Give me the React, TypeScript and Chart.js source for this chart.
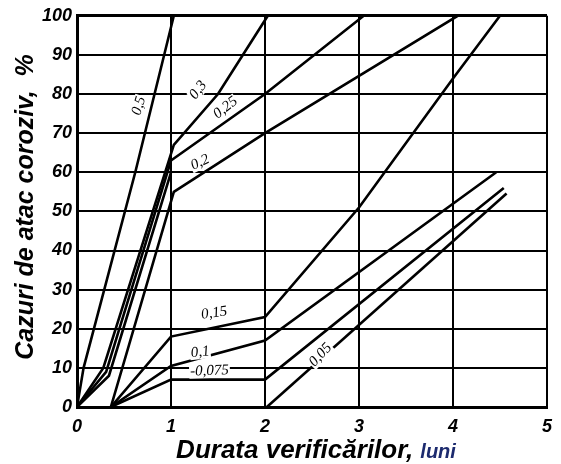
import React, { useEffect, useRef } from "react";
import { Chart, registerables } from "chart.js";

Chart.register(...registerables);

// axis ticks
const xTickValues = [0, 1, 2, 3, 4, 5];
const yTickValues = [0, 10, 20, 30, 40, 50, 60, 70, 80, 90, 100];

// curves (x = luni, y = %)
const c05X = [0, 0.07, 0.62, 1.03];
const c05Y = [0, 10, 60, 100];

const c03X = [0, 0.28, 1.03, 1.5, 2.03];
const c03Y = [0, 10, 67, 80, 100];

const c025X = [0, 0.31, 1.0, 2.0, 3.05];
const c025Y = [0, 9, 63, 80, 100];

const cAuxX = [0, 0.34, 1.0];
const cAuxY = [0, 8, 60];

const c02X = [0.36, 1.03, 2.0, 4.05];
const c02Y = [0, 55, 70, 100];

const c015X = [0.36, 1.0, 2.0, 3.0, 4.0, 4.5];
const c015Y = [0, 18, 23, 51, 84, 100];

const c01X = [0.36, 1.0, 2.0, 4.46];
const c01Y = [0, 10.5, 17, 60];

const c0075X = [0.36, 1.0, 2.0, 4.54];
const c0075Y = [0, 7, 7, 56];

const c005X = [2.02, 4.57];
const c005Y = [0, 54.6];

const curveXs = [c05X, c03X, c025X, cAuxX, c02X, c015X, c01X, c0075X, c005X];
const curveYs = [c05Y, c03Y, c025Y, cAuxY, c02Y, c015Y, c01Y, c0075Y, c005Y];

// curve labels
const labelTexts = ["0,5", "0,3", "0,25", "0,2", "0,15", "0,1", "-0,075", "0,05"];
const labelX = [0.66, 1.29, 1.58, 1.31, 1.46, 1.31, 1.41, 2.59];
const labelY = [77, 81, 76.5, 62.5, 24, 14, 9.2, 13.3];
const labelAngle = [-73, -52, -38, -25, -8, -6, -2, -47];

const yTitle = "Cazuri de atac coroziv,  %";
const xTitleMain = "Durata verificărilor,";
const xTitleUnit = "luni";

const decorPlugin = {
  id: "decor",
  afterDatasetsDraw(chart: any) {
    const { ctx } = chart;
    const xs = chart.scales.x;
    const ys = chart.scales.y;
    ctx.save();
    ctx.font = "italic 15px 'Liberation Serif'";
    ctx.textAlign = "center";
    ctx.textBaseline = "middle";
    labelTexts.forEach((t, i) => {
      const px = xs.getPixelForValue(labelX[i]);
      const py = ys.getPixelForValue(labelY[i]);
      ctx.save();
      ctx.translate(px, py);
      ctx.rotate((labelAngle[i] * Math.PI) / 180);
      const w = ctx.measureText(t).width;
      ctx.fillStyle = "#fff";
      ctx.fillRect(-w / 2 - 1, -7, w + 2, 14);
      ctx.fillStyle = "#000";
      ctx.fillText(t, 0, 0);
      ctx.restore();
    });
    ctx.restore();
  },
  afterDraw(chart: any) {
    const { ctx } = chart;
    ctx.save();
    // y title
    ctx.translate(26, 207);
    ctx.rotate(-Math.PI / 2);
    ctx.font = "italic bold 25px 'Liberation Sans'";
    ctx.fillStyle = "#000";
    ctx.textAlign = "center";
    ctx.textBaseline = "middle";
    ctx.fillText(yTitle, 0, 0);
    ctx.restore();

    ctx.save();
    ctx.textBaseline = "alphabetic";
    ctx.textAlign = "left";
    ctx.font = "italic bold 26px 'Liberation Sans'";
    const w1 = ctx.measureText(xTitleMain + " ").width;
    ctx.font = "italic bold 20px 'Liberation Sans'";
    const w2 = ctx.measureText(xTitleUnit).width;
    const start = 316 - (w1 + w2) / 2;
    ctx.font = "italic bold 26px 'Liberation Sans'";
    ctx.fillStyle = "#000";
    ctx.fillText(xTitleMain, start, 458);
    ctx.font = "italic bold 20px 'Liberation Sans'";
    ctx.fillStyle = "#1c2a6e";
    ctx.fillText(xTitleUnit, start + w1, 458);
    ctx.restore();
  },
};

export default function App() {
  const ref = useRef<HTMLCanvasElement | null>(null);
  useEffect(() => {
    if (!ref.current) return;
    const datasets = curveXs.map((xsArr, i) => ({
      label: "c" + i,
      data: xsArr.map((x, j) => ({ x, y: curveYs[i][j] })),
      borderColor: "#000",
      borderWidth: 2.6,
      pointRadius: 0,
      tension: 0,
      fill: false,
    }));
    const tickFont = { family: "'Liberation Sans'", size: 18, weight: "bold", style: "italic" };
    const chart = new Chart(ref.current, {
      type: "line",
      data: { datasets },
      options: {
        animation: false,
        responsive: false,
        layout: { padding: { top: 15, right: 6, left: 0, bottom: 0 } },
        plugins: { legend: { display: false }, tooltip: { enabled: false } },
        scales: {
          x: {
            type: "linear",
            min: 0,
            max: 5,
            afterFit: (s: any) => {
              s.height = 57;
            },
            afterBuildTicks: (s: any) => {
              s.ticks = xTickValues.map((v) => ({ value: v }));
            },
            ticks: {
              color: "#000",
              padding: 9,
              font: tickFont,
              maxRotation: 0,
            },
            grid: {
              color: "#000",
              lineWidth: 2,
              drawTicks: false,
            },
            border: { display: true, color: "#000", width: 3 },
          },
          y: {
            type: "linear",
            min: 0,
            max: 100,
            afterFit: (s: any) => {
              s.width = 77;
            },
            afterBuildTicks: (s: any) => {
              s.ticks = yTickValues.map((v) => ({ value: v }));
            },
            ticks: {
              color: "#000",
              padding: 5,
              font: tickFont,
            },
            grid: {
              color: "#000",
              lineWidth: (c: any) => (c.tick && c.tick.value === 100 ? 3 : 2),
              drawTicks: false,
            },
            border: { display: true, color: "#000", width: 3 },
          },
        },
      },
      plugins: [decorPlugin],
    });
    return () => chart.destroy();
  }, []);
  return (
    <div style={{ position: "fixed", left: 0, top: 0, width: 561, height: 464, background: "#fff" }}>
      <canvas ref={ref} width={561} height={464} style={{ width: 561, height: 464 }} />
    </div>
  );
}
